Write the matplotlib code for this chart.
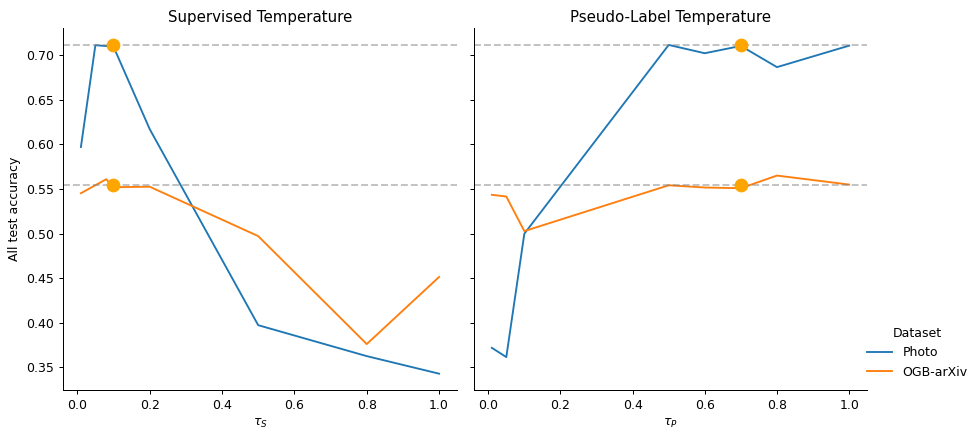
import matplotlib
matplotlib.use("Agg")
import matplotlib.pyplot as plt

# Supervised temperature panel
sup_x_photo = [0.01, 0.05, 0.1, 0.2, 0.5, 0.8, 1.0]
sup_y_photo = [0.597, 0.7112, 0.7096, 0.6172, 0.3972, 0.3625, 0.3428]
sup_x_arxiv = [0.01, 0.08, 0.1, 0.2, 0.5, 0.8, 1.0]
sup_y_arxiv = [0.5452, 0.5609, 0.5519, 0.5525, 0.4971, 0.376, 0.4513]

# Pseudo-label temperature panel
pl_x = [0.01, 0.05, 0.1, 0.5, 0.6, 0.7, 0.8, 1.0]
pl_y_photo = [0.3718, 0.3614, 0.4998, 0.7115, 0.7022, 0.7104, 0.6866, 0.7107]
pl_y_arxiv = [0.5434, 0.5415, 0.5027, 0.5541, 0.5516, 0.5508, 0.565, 0.5549]

ref_photo = 0.7115
ref_arxiv = 0.5541
chosen_sup = 0.1
chosen_pl = 0.7

titles = ["Supervised Temperature", "Pseudo-Label Temperature"]
xlabels = [r"$\tau_S$", r"$\tau_P$"]

blue = "#1f77b4"
orange = "#ff7f0e"

DPI = 90
fig = plt.figure(figsize=(969/DPI, 429/DPI), dpi=DPI)
ax1 = fig.add_axes([63/969, 1-390/429, (457-63)/969, (390-28)/429])
ax2 = fig.add_axes([474/969, 1-390/429, (867-474)/969, (390-28)/429], sharey=ax1)

panels = [
    (ax1, sup_x_photo, sup_y_photo, sup_x_arxiv, sup_y_arxiv, chosen_sup),
    (ax2, pl_x, pl_y_photo, pl_x, pl_y_arxiv, chosen_pl),
]
for i, (ax, xp, yp, xa, ya, ch) in enumerate(panels):
    l1, = ax.plot(xp, yp, color=blue, lw=1.5, label="Photo")
    l2, = ax.plot(xa, ya, color=orange, lw=1.5, label="OGB-arXiv")
    ax.axhline(ref_photo, color="gray", ls="--", alpha=0.5, lw=1.5)
    ax.axhline(ref_arxiv, color="gray", ls="--", alpha=0.5, lw=1.5)
    ax.scatter([ch, ch], [ref_photo, ref_arxiv], color="orange", s=100, zorder=5)
    ax.set_title(titles[i], fontsize=12, pad=5)
    ax.set_xlabel(xlabels[i])
    ax.spines["top"].set_visible(False)
    ax.spines["right"].set_visible(False)
    ax.set_xlim(-0.0395, 1.0495)
    ax.set_xticks([0.0, 0.2, 0.4, 0.6, 0.8, 1.0])

ax1.set_ylim(0.3245, 0.7305)
ax1.set_yticks([0.35, 0.40, 0.45, 0.50, 0.55, 0.60, 0.65, 0.70])
ax1.set_ylabel("All test accuracy")
ax2.tick_params(labelleft=False)

fig.legend(handles=[l1, l2], title="Dataset", loc="upper left",
           bbox_to_anchor=(856/969, 1-316/429), frameon=False)

fig.savefig("out.png", dpi=DPI)
